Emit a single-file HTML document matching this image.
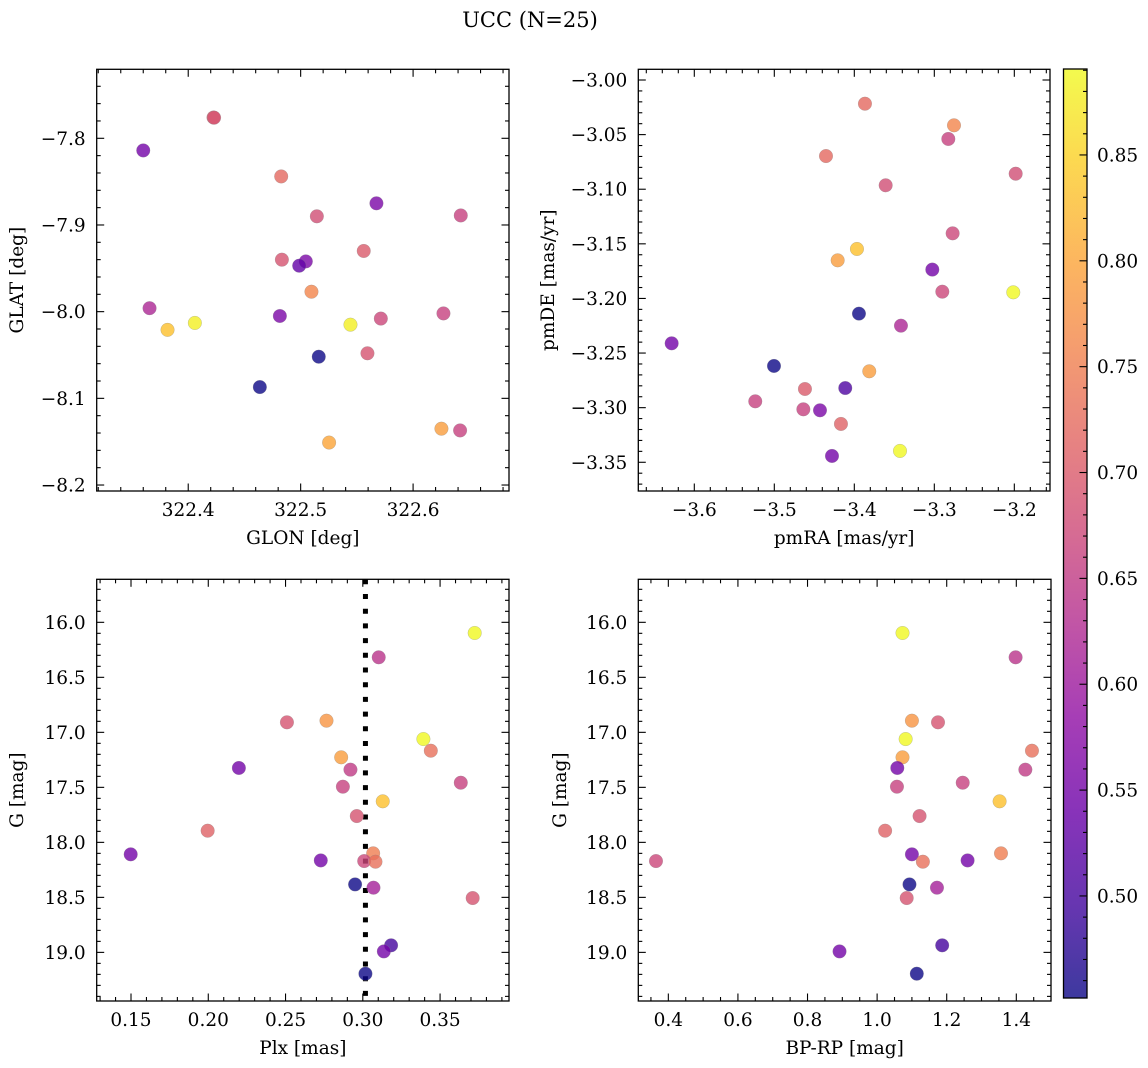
<!DOCTYPE html>
<html><head><meta charset="utf-8"><style>
html,body{margin:0;padding:0;background:#fff;}
svg{display:block;font-family:"DejaVu Serif","Liberation Serif",serif;}
</style></head><body>
<svg id="fig" width="1148" height="1068" viewBox="0 0 1148 1068" xmlns="http://www.w3.org/2000/svg">
<text x="530" y="27" text-anchor="middle" font-size="21" fill="#000">UCC (N=25)</text>
</svg>
<script>
// membership probability (colour) per star
const probs = [0.89,0.64,0.69,0.78,0.89,0.73,0.79,0.65,0.55,0.66,0.66,0.83,0.69,0.71,0.55,0.75,0.55,0.67,0.73,0.4518,0.61,0.69,0.50,0.55,0.4518];
const plx = [0.3724,0.3103,0.2509,0.2765,0.3392,0.3440,0.2860,0.2920,0.2198,0.3634,0.2871,0.3129,0.2961,0.1996,0.1498,0.3067,0.2728,0.3009,0.3082,0.2950,0.3069,0.3711,0.3183,0.3136,0.3017];
const gmag = [16.097,16.318,16.909,16.894,17.061,17.167,17.227,17.339,17.324,17.458,17.494,17.627,17.761,17.894,18.109,18.100,18.164,18.170,18.176,18.382,18.412,18.506,18.936,18.991,19.194];
const bprp = [1.073,1.398,1.175,1.100,1.082,1.445,1.073,1.426,1.058,1.246,1.057,1.352,1.122,1.023,1.100,1.356,1.260,0.3645,1.1315,1.093,1.172,1.085,1.187,0.892,1.114];
const glon = [322.360,322.4225,322.4827,322.5674,322.5144,322.6424,322.5561,322.4833,322.5046,322.4987,322.5096,322.3656,322.6270,322.5713,322.4815,322.4059,322.5443,322.3816,322.5161,322.5594,322.4637,322.6252,322.6418,322.5253,322.4230];
const glat = [-7.814,-7.776,-7.844,-7.875,-7.890,-7.889,-7.930,-7.940,-7.942,-7.947,-7.977,-7.996,-8.002,-8.008,-8.005,-8.013,-8.015,-8.021,-8.052,-8.048,-8.087,-8.135,-8.137,-8.151,-7.7762];
const glProb = [0.55,0.70,0.72,0.56,0.68,0.66,0.70,0.69,0.56,0.53,0.76,0.62,0.66,0.67,0.56,0.88,0.88,0.83,0.4518,0.69,0.4518,0.79,0.66,0.80,0.69];
const pmra = [-3.3867,-3.2754,-3.2825,-3.4354,-3.1983,-3.3608,-3.2771,-3.3967,-3.4208,-3.3025,-3.2900,-3.2013,-3.3942,-3.3417,-3.6283,-3.5004,-3.3813,-3.4617,-3.4113,-3.5238,-3.4637,-3.4429,-3.4167,-3.3429,-3.4279];
const pmde = [-3.0217,-3.0415,-3.054,-3.0696,-3.0858,-3.0964,-3.1404,-3.1547,-3.1651,-3.1736,-3.1938,-3.1944,-3.2139,-3.2249,-3.2411,-3.2618,-3.2667,-3.2829,-3.282,-3.2942,-3.3015,-3.3024,-3.3149,-3.3396,-3.3442];
const pmProb = [0.72,0.76,0.66,0.72,0.68,0.68,0.67,0.83,0.79,0.55,0.67,0.89,0.4518,0.62,0.55,0.4518,0.79,0.70,0.51,0.66,0.66,0.56,0.71,0.89,0.55];
const plxLine = 0.3017;
const cbTicks = [0.50,0.55,0.60,0.65,0.70,0.75,0.80,0.85];
const vmin = 0.4518, vmax = 0.8906;

const NS = "http://www.w3.org/2000/svg";
const svg = document.getElementById('fig');
function mk(tag, attrs, parent){const e=document.createElementNS(NS,tag);for(const k in attrs)e.setAttribute(k,attrs[k]);(parent||svg).appendChild(e);return e;}
const stops=[[13,8,135],[65,4,157],[106,0,168],[143,13,164],[177,42,144],[204,71,120],[225,100,98],[242,132,75],[252,166,54],[252,206,37],[240,249,33]];
function plasma(t){t=Math.max(0,Math.min(1,t));const f=t*10,i=Math.min(9,Math.floor(f)),r=f-i;const a=stops[i],b=stops[i+1];return 'rgb('+a.map((v,k)=>Math.round(v+(b[k]-v)*r)).join(',')+')';}
function fmt(v,d){const s=Math.abs(v).toFixed(d);return (v<-1e-9?'\u2212':'')+s;}

function panel(o){
  const g=mk('g',{});
  
  
  const sx=v=>o.x0+(v-o.xmin)/(o.xmax-o.xmin)*(o.x1-o.x0);
  const sy=v=>o.inv? o.y0+(v-o.ymin)/(o.ymax-o.ymin)*(o.y1-o.y0) : o.y1-(v-o.ymin)/(o.ymax-o.ymin)*(o.y1-o.y0);
  if(o.vline!==undefined){
    const l=mk('line',{x1:sx(o.vline),x2:sx(o.vline),y1:o.y0,y2:o.y1,stroke:'#000','stroke-width':5,'stroke-dasharray':'5 9.7'},g);
    
    
  }
  o.xs.forEach((xv,i)=>{
    const c=mk('circle',{cx:sx(xv),cy:sy(o.ys[i]),r:6.8,fill:plasma((o.cs[i]-vmin)/(vmax-vmin)),'fill-opacity':0.8,stroke:'#888','stroke-opacity':0.5,'stroke-width':0.5},g);
    
    
  });
  const fr=mk('rect',{x:o.x0,y:o.y0,width:o.x1-o.x0,height:o.y1-o.y0,fill:'none',stroke:'#000','stroke-width':1.3},g);
  
  
  const eps=1e-7;
  let s0=Math.ceil(o.xmin/o.xminor-eps);
  for(let k=s0;k*o.xminor<=o.xmax+eps;k++){
    const v=k*o.xminor, X=sx(v);
    const ratio=v/o.xmajor, major=Math.abs(ratio-Math.round(ratio))<1e-4;
    const L=major?7.5:4;
    mk('line',{x1:X,x2:X,y1:o.y1,y2:o.y1-L,stroke:'#000','stroke-width':1.1},g);
    mk('line',{x1:X,x2:X,y1:o.y0,y2:o.y0+L,stroke:'#000','stroke-width':1.1},g);
    if(major){
      const t=mk('text',{x:X,y:o.y1+25,'text-anchor':'middle','font-size':18.5,fill:'#000'},g);
      t.textContent=fmt(v,o.xd);
      
      
    }
  }
  s0=Math.ceil(o.ymin/o.yminor-eps);
  for(let k=s0;k*o.yminor<=o.ymax+eps;k++){
    const v=k*o.yminor, Y=sy(v);
    const ratio=v/o.ymajor, major=Math.abs(ratio-Math.round(ratio))<1e-4;
    const L=major?7.5:4;
    mk('line',{x1:o.x0,x2:o.x0+L,y1:Y,y2:Y,stroke:'#000','stroke-width':1.1},g);
    mk('line',{x1:o.x1,x2:o.x1-L,y1:Y,y2:Y,stroke:'#000','stroke-width':1.1},g);
    if(major){
      const t=mk('text',{x:o.x0-11,y:Y+6.5,'text-anchor':'end','font-size':18.5,fill:'#000'},g);
      t.textContent=fmt(v,o.yd);
      
      
    }
  }
  const xl=mk('text',{x:(o.x0+o.x1)/2,y:o.y1+53,'text-anchor':'middle','font-size':18.5,fill:'#000'},g);
  xl.textContent=o.xlabel;
  
  
  const yx=o.ylx, yy=(o.y0+o.y1)/2;
  const yl=mk('text',{x:yx,y:yy,'text-anchor':'middle','font-size':18.5,fill:'#000',transform:'rotate(-90 '+yx+' '+yy+')'},g);
  yl.textContent=o.ylabel;
  
  
}

panel({name:'glon-glat-panel',x0:96.7,x1:509,y0:69.3,y1:491,xmin:322.3186,xmax:322.6853,ymin:-8.2069,ymax:-7.7204,
  xs:glon,ys:glat,cs:glProb,xmajor:0.1,xminor:0.02,ymajor:0.1,yminor:0.02,xd:1,yd:1,xlabel:'GLON [deg]',ylabel:'GLAT [deg]',ylx:23});
panel({name:'pm-panel',x0:638.3,x1:1050,y0:69.3,y1:491,xmin:-3.67,xmax:-3.1554,ymin:-3.3763,ymax:-2.9902,
  xs:pmra,ys:pmde,cs:pmProb,xmajor:0.1,xminor:0.02,ymajor:0.05,yminor:0.01,xd:1,yd:2,xlabel:'pmRA [mas/yr]',ylabel:'pmDE [mas/yr]',ylx:554});
panel({name:'plx-g-panel',x0:96.7,x1:509,y0:579.3,y1:1001,xmin:0.1278,xmax:0.3946,ymin:15.609,ymax:19.442,inv:true,
  xs:plx,ys:gmag,cs:probs,xmajor:0.05,xminor:0.01,ymajor:0.5,yminor:0.1,xd:2,yd:1,xlabel:'Plx [mas]',ylabel:'G [mag]',ylx:23,vline:plxLine});
panel({name:'cmd-panel',x0:638.3,x1:1051,y0:579.3,y1:1001,xmin:0.3137,xmax:1.4997,ymin:15.609,ymax:19.442,inv:true,
  xs:bprp,ys:gmag,cs:probs,xmajor:0.2,xminor:0.05,ymajor:0.5,yminor:0.1,xd:1,yd:1,xlabel:'BP-RP [mag]',ylabel:'G [mag]',ylx:566});

const cb=mk('g',{});


const defs=mk('defs',{},cb);
const lg=mk('linearGradient',{id:'pl',x1:0,y1:1,x2:0,y2:0},defs);
for(let i=0;i<=10;i++){mk('stop',{offset:(i*10)+'%','stop-color':plasma(i/10),'stop-opacity':0.8},lg);}
const cbx0=1063.5,cbx1=1087,cby0=69,cby1=998;
mk('rect',{x:cbx0,y:cby0,width:cbx1-cbx0,height:cby1-cby0,fill:'url(#pl)',stroke:'#000','stroke-width':1.3},cb);
const cy=v=>cby1-(v-vmin)/(vmax-vmin)*(cby1-cby0);
for(let k=Math.ceil(vmin*100);k<=Math.floor(vmax*100);k++){
  const v=k/100,Y=cy(v),major=k%5===0;
  mk('line',{x1:cbx1,x2:cbx1-(major?7.5:4),y1:Y,y2:Y,stroke:'#000','stroke-width':1.1},cb);
}
cbTicks.forEach(v=>{
  const t=mk('text',{x:1097,y:cy(v)+6.5,'font-size':18.5,fill:'#000'},cb);
  t.textContent=v.toFixed(2);
  
  
});
</script>
</body></html>
